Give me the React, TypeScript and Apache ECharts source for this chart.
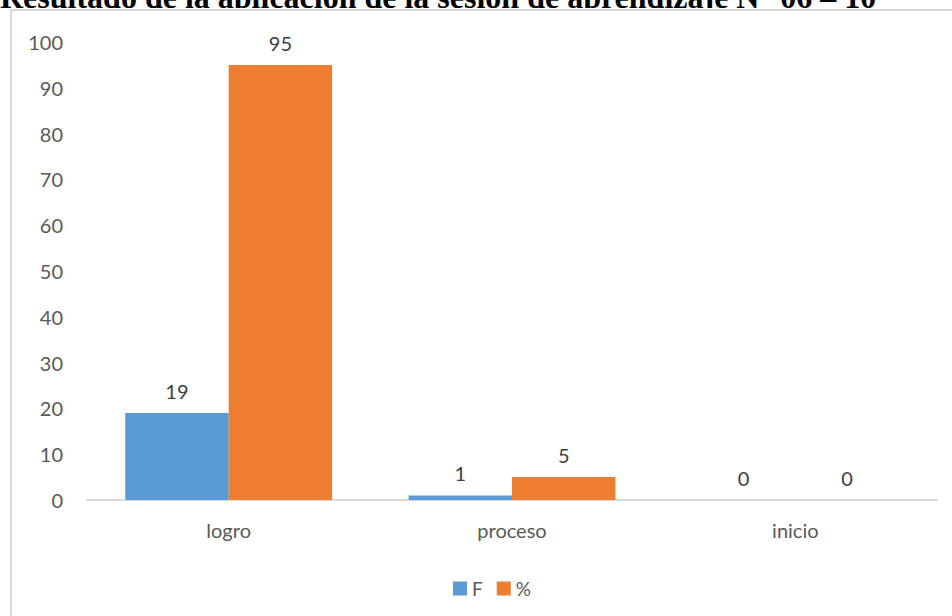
import React, { useEffect, useRef } from "react";
import * as echarts from "echarts";

const titleText = "Resultado de la aplicación de la sesión de aprendizaje N° 06 – 10";
const categories = ["logro", "proceso", "inicio"];
const seriesNames = ["F", "%"];
const fValues = [19, 1, 0];
const pctValues = [95, 5, 0];

export default function App() {
  const ref = useRef<HTMLDivElement>(null);
  useEffect(() => {
    if (!ref.current) return;
    const chart = echarts.init(ref.current, null, { renderer: "svg" });
    const font = "Lato, 'Open Sans', sans-serif";
    chart.setOption({
      animation: false,
      backgroundColor: "#ffffff",
      textStyle: { fontFamily: font },
      graphic: [
        {
          type: "text",
          x: 0,
          y: -3,
          z: 0,
          style: {
            text: titleText,
            font: "bold 32px 'Liberation Serif', 'Times New Roman', serif",
            fill: "#000000",
            verticalAlign: "middle",
            align: "left",
          },
        },
        {
          type: "rect",
          shape: { x: 0, y: 8, width: 1000, height: 700 },
          style: { fill: "#ffffff" },
          z: 1,
        },
        {
          type: "rect",
          shape: { x: 11, y: 10, width: 1000, height: 700 },
          style: { fill: "none", stroke: "#d9d9d9", lineWidth: 2 },
          z: 2,
        },
      ],
      grid: { left: 87, right: 15, top: 42, bottom: 116, containLabel: false, z: 5 },
      legend: {
        data: seriesNames,
        left: 448,
        top: 574,
        itemWidth: 14,
        itemHeight: 14,
        itemGap: 14,
        icon: "rect",
        z: 5,
        textStyle: { color: "#595959", fontSize: 19, fontFamily: font },
      },
      xAxis: {
        type: "category",
        data: categories,
        z: 5,
        axisLine: { lineStyle: { color: "#d9d9d9", width: 2 } },
        axisTick: { show: false },
        axisLabel: { color: "#595959", fontSize: 20, margin: 20, fontFamily: font },
      },
      yAxis: {
        type: "value",
        min: 0,
        max: 100,
        interval: 10,
        z: 5,
        axisLine: { show: false },
        axisTick: { show: false },
        splitLine: { show: false },
        axisLabel: { color: "#595959", fontSize: 20, margin: 24, fontFamily: font },
      },
      series: [
        {
          name: seriesNames[0],
          type: "bar",
          data: fValues,
          barGap: "0%",
          barCategoryGap: "27%",
          z: 5,
          itemStyle: { color: "#5B9BD5" },
          label: { show: true, position: "top", distance: 12, color: "#404040", fontSize: 20, fontFamily: font },
        },
        {
          name: seriesNames[1],
          type: "bar",
          data: pctValues,
          barGap: "0%",
          barCategoryGap: "27%",
          z: 5,
          itemStyle: { color: "#ED7D31" },
          label: { show: true, position: "top", distance: 12, color: "#404040", fontSize: 20, fontFamily: font },
        },
      ],
    });
    return () => chart.dispose();
  }, []);
  return (
    <div
      ref={ref}
      style={{ position: "fixed", left: 0, top: 0, width: 952, height: 616 }}
    />
  );
}
